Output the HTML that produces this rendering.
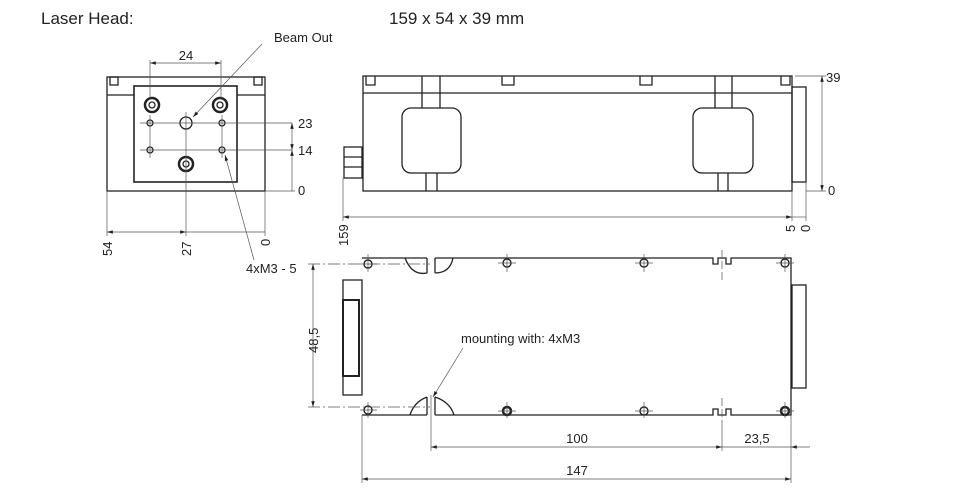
<!DOCTYPE html>
<html><head><meta charset="utf-8"><style>
body{margin:0;background:#fff}
svg{display:block}
text{font-family:"Liberation Sans",Arial,sans-serif;fill:#222}
</style></head><body>
<svg width="960" height="492" viewBox="0 0 960 492" xmlns="http://www.w3.org/2000/svg">
<defs>
<marker id="a" viewBox="0 0 10 6" refX="10" refY="3" markerWidth="9" markerHeight="5" orient="auto-start-reverse"><path d="M0,0L10,3L0,6z" fill="#222"/></marker>
</defs>
<text x="41" y="24" font-size="17">Laser Head:</text>
<text x="389" y="24" font-size="17">159 x 54 x 39 mm</text>

<g fill="none" stroke="#222" stroke-width="1.3">
<rect x="107" y="77" width="158" height="114"/>
<line x1="107" y1="95" x2="134" y2="95"/><line x1="237" y1="95" x2="265" y2="95"/>
<rect x="110" y="77" width="8" height="8"/><rect x="254" y="77" width="8" height="8"/>
<rect x="134" y="86" width="103" height="96" stroke-width="1.6"/>
<circle cx="152" cy="105" r="7" stroke-width="2.5"/><circle cx="152" cy="105" r="3"/>
<circle cx="220" cy="105" r="7" stroke-width="2.5"/><circle cx="220" cy="105" r="3"/>
<circle cx="186" cy="164" r="7" stroke-width="2.5"/><circle cx="186" cy="164" r="3"/>
<circle cx="150" cy="123" r="3"/><circle cx="222" cy="123" r="3"/>
<circle cx="150" cy="150" r="3"/><circle cx="222" cy="150" r="3"/>
<circle cx="186" cy="123" r="6"/>
</g>
<g fill="none" stroke="#555" stroke-width="0.7">
<line x1="140" y1="123" x2="292" y2="123"/><line x1="140" y1="150" x2="292" y2="150"/>
<line x1="150" y1="115" x2="150" y2="158"/><line x1="222" y1="115" x2="222" y2="158"/>
<line x1="186" y1="112" x2="186" y2="236"/>
<line x1="150" y1="60" x2="150" y2="98"/><line x1="221" y1="60" x2="221" y2="98"/>
<line x1="150" y1="63" x2="221" y2="63" marker-start="url(#a)" marker-end="url(#a)"/>
<line x1="265" y1="191" x2="295" y2="191"/>
<line x1="292" y1="123" x2="292" y2="150" marker-start="url(#a)" marker-end="url(#a)"/>
<line x1="292" y1="150" x2="292" y2="191" marker-start="url(#a)"/>
<line x1="107" y1="191" x2="107" y2="236"/><line x1="265" y1="191" x2="265" y2="236"/>
<line x1="107" y1="232" x2="186" y2="232" marker-start="url(#a)" marker-end="url(#a)"/>
<line x1="186" y1="232" x2="265" y2="232"/>
<line x1="262" y1="44" x2="193" y2="117" marker-end="url(#a)"/>
<line x1="254" y1="260" x2="225" y2="155" marker-end="url(#a)"/>
</g>
<text x="186" y="60" font-size="13" text-anchor="middle">24</text>
<text x="274" y="42" font-size="13">Beam Out</text>
<text x="298" y="128" font-size="13">23</text>
<text x="298" y="155" font-size="13">14</text>
<text x="298" y="195" font-size="13">0</text>
<text font-size="13" transform="translate(112,256) rotate(-90)">54</text>
<text font-size="13" transform="translate(191,256) rotate(-90)">27</text>
<text font-size="13" transform="translate(270,246) rotate(-90)">0</text>
<text x="246" y="273" font-size="13">4xM3 - 5</text>

<g fill="none" stroke="#222" stroke-width="1.3">
<rect x="363" y="76" width="429" height="115"/>
<line x1="363" y1="93" x2="792" y2="93"/>
<rect x="402" y="108" width="59" height="65" rx="9"/>
<rect x="693" y="108" width="60" height="65" rx="9"/>
<path d="M422 76V108M440 76V108M426 173V191M437 173V191M715 76V108M732 76V108M718 173V191M728 173V191"/>
<path d="M366 76V85H375V76M502 76V85H514V76M640 76V85H652V76M781 76V85H790V76"/>
<rect x="344" y="147" width="18" height="31"/>
<path d="M344 157H362M344 167H362"/>
<rect x="792" y="87" width="14" height="95"/>
</g>
<g fill="none" stroke="#555" stroke-width="0.7">
<line x1="795" y1="76" x2="826" y2="76"/><line x1="806" y1="191" x2="826" y2="191"/>
<line x1="822" y1="76" x2="822" y2="191" marker-start="url(#a)" marker-end="url(#a)"/>
<line x1="343" y1="178" x2="343" y2="221"/><line x1="792" y1="191" x2="792" y2="221"/><line x1="806" y1="182" x2="806" y2="221"/>
<line x1="343" y1="217" x2="792" y2="217" marker-start="url(#a)" marker-end="url(#a)"/>
<line x1="792" y1="217" x2="806" y2="217"/>
</g>
<text x="826" y="82" font-size="13">39</text>
<text x="828" y="195" font-size="13">0</text>
<text font-size="13" transform="translate(348,246) rotate(-90)">159</text>
<text font-size="13" transform="translate(795,232) rotate(-90)">5</text>
<text font-size="13" transform="translate(810,232) rotate(-90)">0</text>

<g fill="none" stroke="#222" stroke-width="1.3">
<path d="M362 258H427M435 258H713V264H718V258H726V264H731V258H791V415H731V409H726V415H718V409H713V415H435M427 415H362Z"/>
<path d="M427 258V273M435 258V273M405 258Q412 276 427 273M435 273Q450 273 453 258"/>
<path d="M427 415V397M435 415V397M410 415Q414 402 427 397M435 397Q450 402 454 415"/>
<rect x="343" y="280" width="19" height="115"/>
<rect x="343" y="300" width="16" height="76" stroke-width="2"/>
<rect x="792" y="285" width="14" height="103"/>
<g stroke-width="1.4">
<circle cx="368" cy="264" r="4"/><circle cx="507" cy="263" r="4"/><circle cx="644" cy="263" r="4"/><circle cx="785" cy="263" r="4"/>
<circle cx="368" cy="410" r="4"/><circle cx="507" cy="411" r="4" stroke-width="2.5"/><circle cx="644" cy="411" r="4"/><circle cx="785" cy="411" r="4" stroke-width="2.5"/>
</g>
</g>
<g fill="none" stroke="#555" stroke-width="0.7">
<path d="M360 264H377M498 263H516M635 263H653M776 263H794M360 410H377M498 411H516M635 411H653M776 411H794"/>
<path d="M368 254V272M507 254V272M644 254V272M785 254V272M368 402V418M507 402V418M644 402V418M785 402V418"/>
<path d="M722 250V280M722 398V425" stroke-dasharray="8 3"/>
<line x1="308" y1="264" x2="430" y2="264" stroke-dasharray="12 3 2 3"/>
<line x1="308" y1="407" x2="430" y2="407" stroke-dasharray="12 3 2 3"/>
<line x1="313" y1="264" x2="313" y2="407" marker-start="url(#a)" marker-end="url(#a)"/>
<line x1="431" y1="395" x2="431" y2="451"/><line x1="722" y1="425" x2="722" y2="451"/>
<line x1="362" y1="415" x2="362" y2="483"/><line x1="791" y1="415" x2="791" y2="483"/>
<line x1="431" y1="447" x2="722" y2="447" marker-start="url(#a)" marker-end="url(#a)"/>
<line x1="722" y1="447" x2="791" y2="447"/>
<line x1="810" y1="447" x2="791" y2="447" marker-end="url(#a)"/>
<line x1="362" y1="479" x2="791" y2="479" marker-start="url(#a)" marker-end="url(#a)"/>
<line x1="463" y1="348" x2="433" y2="397" marker-end="url(#a)"/>
</g>
<text font-size="13" transform="translate(318,353) rotate(-90)">48,5</text>
<text x="461" y="343" font-size="13">mounting with: 4xM3</text>
<text x="577" y="443" font-size="13" text-anchor="middle">100</text>
<text x="757" y="443" font-size="13" text-anchor="middle">23,5</text>
<text x="577" y="475" font-size="13" text-anchor="middle">147</text>
</svg>
</body></html>
